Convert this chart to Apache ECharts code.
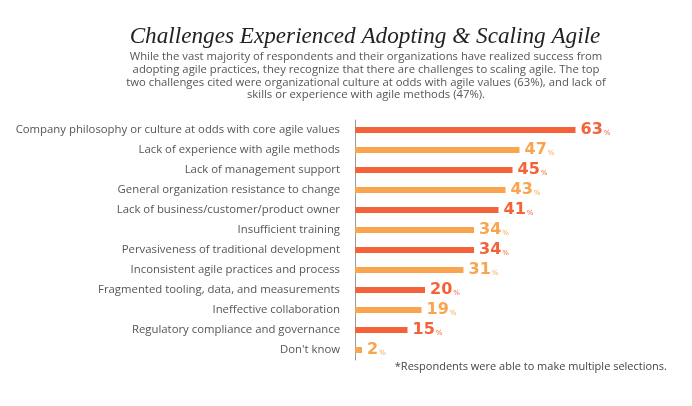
<!DOCTYPE html>
<html><head><meta charset="utf-8">
<script src="https://cdn.jsdelivr.net/npm/echarts@6/dist/echarts.min.js"></script>
<style>html,body{margin:0;padding:0;background:#fff}#c{width:692px;height:406px}</style>
</head><body><div id="c"></div>
<script>
var titleText = 'Challenges Experienced Adopting & Scaling Agile';
var subtitleLines = [
  'While the vast majority of respondents and their organizations have realized success from',
  'adopting agile practices, they recognize that there are challenges to scaling agile. The top',
  'two challenges cited were organizational culture at odds with agile values (63%), and lack of',
  'skills or experience with agile methods (47%).'
];
var categories = [
  'Company philosophy or culture at odds with core agile values',
  'Lack of experience with agile methods',
  'Lack of management support',
  'General organization resistance to change',
  'Lack of business/customer/product owner',
  'Insufficient training',
  'Pervasiveness of traditional development',
  'Inconsistent agile practices and process',
  'Fragmented tooling, data, and measurements',
  'Ineffective collaboration',
  'Regulatory compliance and governance',
  "Don't know"
];
var values = [63, 47, 45, 43, 41, 34, 34, 31, 20, 19, 15, 2];
var footnote = '*Respondents were able to make multiple selections.';

var DARK = '#F4623A', LIGHT = '#F9A550';
var TEXT_FONT = 'Open Sans';
var chart = echarts.init(document.getElementById('c'), null, {renderer: 'canvas'});
var graphics = subtitleLines.map(function (line, i) {
  return {type: 'text', x: 366, y: 57 + i * 12.7,
    style: {text: line, textAlign: 'center', textVerticalAlign: 'middle',
      font: '11.3px "' + TEXT_FONT + '"', fill: '#555'}};
});
graphics.push({type: 'text', x: 365, y: 37,
  style: {text: titleText, textAlign: 'center', textVerticalAlign: 'middle',
    font: 'italic 23.2px "Liberation Serif"', fill: '#222'}});
graphics.push({type: 'text', x: 667, y: 367,
  style: {text: footnote, textAlign: 'right', textVerticalAlign: 'middle',
    font: '11px "' + TEXT_FONT + '"', fill: '#444'}});
chart.setOption({
  animation: false,
  graphic: graphics,
  grid: {left: 355, top: 120, width: 280, height: 240, containLabel: false},
  xAxis: {type: 'value', min: 0, max: 80, show: false},
  yAxis: {
    type: 'category', data: categories, inverse: true,
    axisLine: {show: true, lineStyle: {color: '#999', width: 1}},
    axisTick: {show: false},
    axisLabel: {margin: 15, fontFamily: TEXT_FONT, fontSize: 11.35, color: '#555'}
  },
  series: [{
    type: 'bar', barWidth: 6,
    data: values.map(function (v, i) {
      var c = i % 2 === 0 ? DARK : LIGHT;
      return {value: v, itemStyle: {color: c},
        label: {rich: {v: {color: c}, p: {color: c}}}};
    }),
    label: {
      show: true, position: 'right', distance: 5,
      formatter: function (p) { return '{v|' + p.value + '}{p|%}'; },
      rich: {
        v: {fontFamily: 'DejaVu Sans', fontWeight: 'bold', fontSize: 16},
        p: {fontFamily: 'DejaVu Sans', fontWeight: 'normal', fontSize: 7, padding: [6, 0, 0, 1]}
      }
    }
  }]
});
</script></body></html>
